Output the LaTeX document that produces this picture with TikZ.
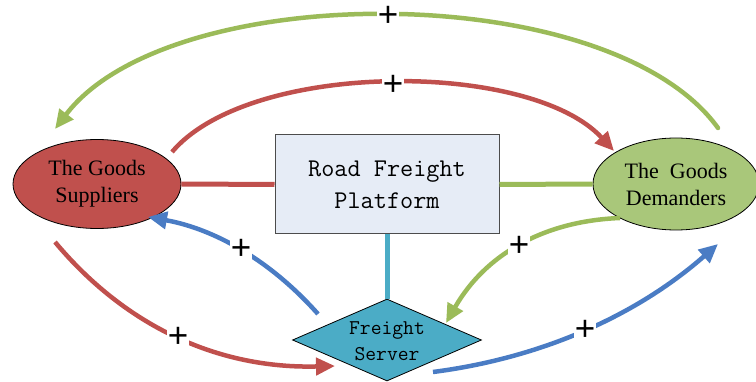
\documentclass[tikz,border=0pt]{standalone}
\usepackage{fontspec}
\setmainfont{Liberation Serif}
\newfontfamily\plusfont{Liberation Sans}
\usetikzlibrary{shapes.geometric,arrows.meta}
\definecolor{cred}{HTML}{C0504D}
\definecolor{cgreen}{HTML}{9BBB59}
\definecolor{cgreenfill}{HTML}{A9C77A}
\definecolor{cblue}{HTML}{4A7CC4}
\definecolor{cteal}{HTML}{4BACC6}
\definecolor{cbox}{HTML}{E6ECF6}
\tikzset{
  actor/.style={ellipse,draw=black,line width=0.8pt,minimum width=168pt,minimum height=89pt,inner sep=0pt,align=center,font=\fontsize{22}{27}\selectfont},
  link/.style={line width=5pt},
  arr/.style={line width=4.5pt,-{Triangle[length=19pt,width=17pt]}},
  plus/.style={fill=white,inner sep=1pt,text height=20.5pt,text depth=-4pt,font=\plusfont\fontsize{35}{35}\selectfont}
}
\begin{document}
\begin{tikzpicture}[x=1pt,y=-1pt]
\useasboundingbox (0,0) rectangle (756,382);
% nodes
\node[actor,fill=cred] (sup) at (97,184) {The Goods\\Suppliers};
\node[actor,fill=cgreenfill,minimum width=166pt,minimum height=92pt] (dem) at (676,184) {The\ \ Goods\\Demanders};
\node[draw=black!70,line width=1pt,fill=cbox,minimum width=224pt,minimum height=99pt,inner sep=0pt,align=center,font=\ttfamily\fontsize{25.5}{32}\selectfont] (plat) at (387,184.5) {Road Freight\\Platform};
\node[diamond,draw=black,line width=0.8pt,fill=cteal,minimum width=189pt,minimum height=82pt,inner sep=0pt] (serv) at (387,340) {};
\node[align=center,font=\ttfamily\fontsize{21}{26}\selectfont] (servtxt) at (387,341) {Freight\\Server};
% straight links
\draw[link,cred] (sup.east) -- (plat.west);
\draw[link,cgreen] (plat.east) -- (dem.west);
\draw[link,cteal] (plat.south) -- (serv.north);
% coordinates for curved arrows
\coordinate (g1s) at (718,128);
\coordinate (g1e) at (55,129);
\coordinate (r1s) at (172,152);
\coordinate (r1e) at (614,151);
\coordinate (b1s) at (318,314);
\coordinate (b1e) at (148,217);
\coordinate (r2s) at (55,242);
\coordinate (r2e) at (335,366);
\coordinate (g2s) at (620,218);
\coordinate (g2e) at (446,323);
\coordinate (b2s) at (433,372);
\coordinate (b2e) at (718,244);
% curved arrows
\draw[arr,cgreen,line cap=round] (g1s) .. controls (610,-22) and (170,-22) .. (g1e);
\draw[arr,cred] (r1s) .. controls (250,60) and (530,60) .. (r1e);
\draw[arr,cblue] (b1s) .. controls (271,261) and (215,229) .. (b1e);
\draw[arr,cred] (r2s) .. controls (126,327) and (219,369) .. (r2e);
\draw[arr,cgreen] (g2s) .. controls (543,221) and (485,255) .. (g2e);
\draw[arr,cblue] (b2s) .. controls (541,358) and (636,316) .. (b2e);
% plus labels
\node[plus] (p1) at (388,16) {+};
\node[plus] (p2) at (393,85) {+};
\node[plus] (p3) at (241,249) {+};
\node[plus] (p4) at (178,337) {+};
\node[plus] (p5) at (519,246) {+};
\node[plus] (p6) at (585,330) {+};
\end{tikzpicture}
\end{document}
